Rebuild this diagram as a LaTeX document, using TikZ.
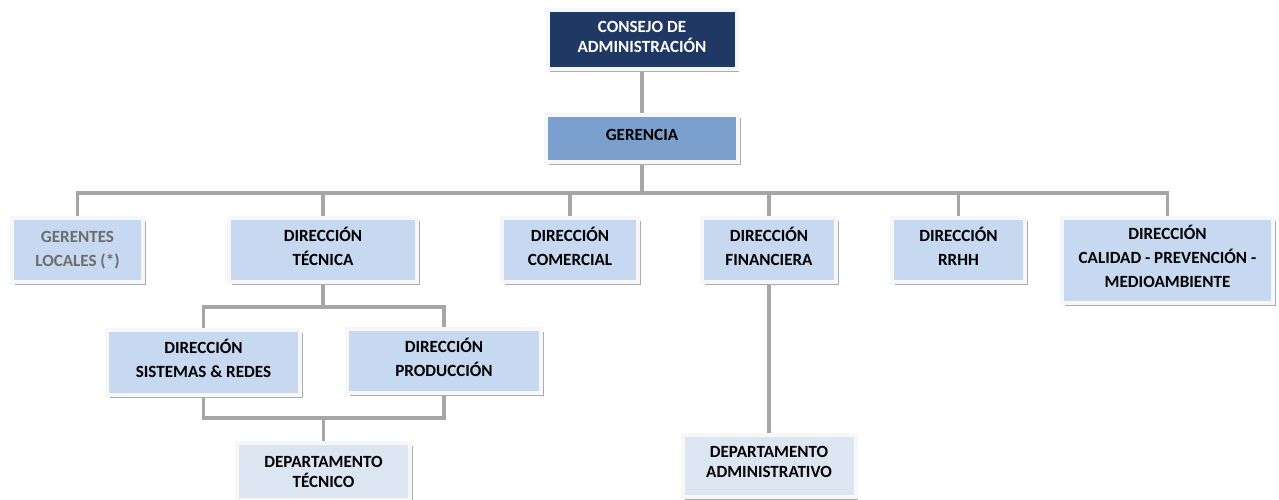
\documentclass[tikz,border=0pt]{standalone}
\usepackage{fontspec}
\setmainfont{Carlito}
\usetikzlibrary{shadows,backgrounds}
\definecolor{navy}{HTML}{203864}
\definecolor{midblue}{HTML}{7BA0CD}
\definecolor{paleblue}{HTML}{C6D9F0}
\definecolor{paleblue2}{HTML}{DCE6F2}
\definecolor{linkgray}{HTML}{A6A6A6}
\definecolor{textgray}{HTML}{6D6D6D}
\tikzset{
  unit/.style={rectangle, fill=paleblue, draw=gray!6, line width=3pt, align=center,
    inner sep=2pt, text depth=6pt, font=\fontsize{12.8}{18}\selectfont\bfseries,
    drop shadow={shadow xshift=2pt, shadow yshift=-2.5pt, fill=gray!65, opacity=1}},
  tight/.style={font=\fontsize{12.8}{15}\selectfont\bfseries},
  link/.style={draw=linkgray, line width=2.4pt}
}
\begin{document}
\begin{tikzpicture}[x=0.75pt, y=-0.75pt]
  \useasboundingbox (0,0) rectangle (1279,500);

  % top
  \node[unit, tight, text depth=4pt, fill=navy, text=white, minimum width=189*0.75pt, minimum height=59*0.75pt]
    (consejo) at (642,39.5) {CONSEJO DE\\ADMINISTRACIÓN};
  \node[unit, fill=midblue, minimum width=192*0.75pt, minimum height=47*0.75pt]
    (gerencia) at (642,138.5) {GERENCIA};

  % direcciones
  \node[unit, text depth=2pt, text=textgray, minimum width=131*0.75pt, minimum height=64*0.75pt]
    (gerentes) at (77.5,250) {GERENTES\\LOCALES (*)};
  \node[unit, minimum width=188*0.75pt, minimum height=64*0.75pt]
    (tecnica) at (323,250) {DIRECCIÓN\\TÉCNICA};
  \node[unit, minimum width=136*0.75pt, minimum height=64*0.75pt]
    (comercial) at (570,250) {DIRECCIÓN\\COMERCIAL};
  \node[unit, minimum width=134*0.75pt, minimum height=64*0.75pt]
    (financiera) at (769,250) {DIRECCIÓN\\FINANCIERA};
  \node[unit, minimum width=133*0.75pt, minimum height=64*0.75pt]
    (rrhh) at (958.5,250) {DIRECCIÓN\\RRHH};
  \node[unit, minimum width=211*0.75pt, minimum height=85*0.75pt]
    (calidad) at (1167.5,260.5) {DIRECCIÓN\\CALIDAD - PREVENCIÓN -\\MEDIOAMBIENTE};

  % bajo direccion tecnica
  \node[unit, minimum width=193*0.75pt, minimum height=65*0.75pt]
    (sistemas) at (203.5,362.5) {DIRECCIÓN\\SISTEMAS \& REDES};
  \node[unit, minimum width=194*0.75pt, minimum height=64*0.75pt]
    (produccion) at (444,361) {DIRECCIÓN\\PRODUCCIÓN};
  \node[unit, tight, text depth=0pt, fill=paleblue2, minimum width=173*0.75pt, minimum height=57*0.75pt]
    (deptec) at (323.5,471.5) {DEPARTAMENTO\\TÉCNICO};

  % bajo direccion financiera
  \node[unit, tight, fill=paleblue2, minimum width=173*0.75pt, minimum height=62*0.75pt]
    (depadm) at (769,466) {DEPARTAMENTO\\ADMINISTRATIVO};

  % lineas
  \coordinate (bus) at (642,193);
  \coordinate (tbus) at (323,307);
  \coordinate (dbus) at (323.5,418);
  \begin{scope}[on background layer]
    \draw[link] (consejo) -- (gerencia);
    \foreach \n in {gerentes,tecnica,comercial,financiera,rrhh,calidad}
      \draw[link] (gerencia.south) -- (bus) -| (\n.north);
    \foreach \n in {sistemas,produccion}
      \draw[link] (tecnica.south) -- (tbus) -| (\n.north);
    \draw[link] (sistemas.south) |- (dbus) -| (produccion.south);
    \draw[link] (dbus) -- (deptec.north);
    \draw[link] (financiera.south) -- (depadm.north);
  \end{scope}
\end{tikzpicture}
\end{document}
